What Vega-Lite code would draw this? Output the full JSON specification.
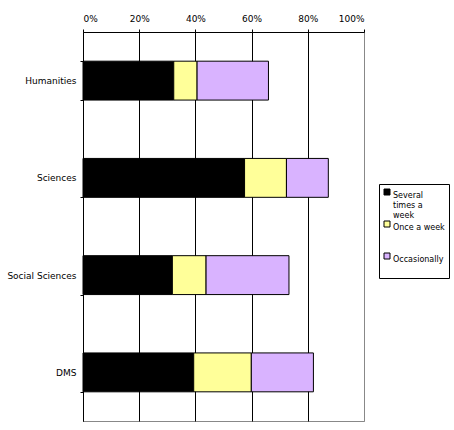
{
  "$schema": "https://vega.github.io/schema/vega-lite/v6.json",
  "width": 281,
  "height": 389,
  "autosize": "none",
  "padding": {"left": 83, "top": 32, "right": 90, "bottom": 9},
  "background": "white",
  "data": {
    "values": [
      {"group": "Humanities", "frequency": "Several times a week", "share": 0.323},
      {"group": "Humanities", "frequency": "Once a week", "share": 0.083},
      {"group": "Humanities", "frequency": "Occasionally", "share": 0.254},
      {"group": "Sciences", "frequency": "Several times a week", "share": 0.575},
      {"group": "Sciences", "frequency": "Once a week", "share": 0.149},
      {"group": "Sciences", "frequency": "Occasionally", "share": 0.149},
      {"group": "Social Sciences", "frequency": "Several times a week", "share": 0.318},
      {"group": "Social Sciences", "frequency": "Once a week", "share": 0.120},
      {"group": "Social Sciences", "frequency": "Occasionally", "share": 0.295},
      {"group": "DMS", "frequency": "Several times a week", "share": 0.394},
      {"group": "DMS", "frequency": "Once a week", "share": 0.205},
      {"group": "DMS", "frequency": "Occasionally", "share": 0.221}
    ]
  },
  "mark": {"type": "bar", "stroke": "black", "strokeWidth": 1},
  "encoding": {
    "y": {
      "field": "group",
      "type": "nominal",
      "sort": ["Humanities", "Sciences", "Social Sciences", "DMS"],
      "scale": {"paddingInner": 0.6, "paddingOuter": 0.3},
      "axis": {
        "title": null,
        "tickBand": "extent",
        "tickSize": 3,
        "tickColor": "black",
        "domainColor": "black",
        "labelPadding": 4,
        "labelFontSize": 9
      }
    },
    "x": {
      "field": "share",
      "type": "quantitative",
      "stack": "zero",
      "scale": {"domain": [0, 1]},
      "axis": {
        "orient": "top",
        "title": null,
        "format": ".0%",
        "values": [0, 0.2, 0.4, 0.6, 0.8, 1],
        "tickSize": 3,
        "tickColor": "black",
        "domainColor": "black",
        "labelPadding": 6,
        "labelFontSize": 9,
        "grid": true,
        "gridOpacity": 1,
        "gridColor": {"condition": {"test": "datum.value == 1", "value": "#888888"}, "value": "black"}
      }
    },
    "order": {"field": "frequency", "sort": "descending"},
    "color": {
      "field": "frequency",
      "type": "nominal",
      "scale": {
        "domain": ["Several times a week", "Once a week", "Occasionally"],
        "range": ["#000000", "#FFFF99", "#D9B3FF"]
      },
      "legend": {
        "orient": "none",
        "legendX": 296,
        "legendY": 152,
        "title": null,
        "gridAlign": "each",
        "rowPadding": -1,
        "padding": 4,
        "strokeColor": "black",
        "fillColor": "white",
        "symbolType": "square",
        "symbolSize": 36,
        "symbolStrokeColor": "black",
        "symbolStrokeWidth": 1,
        "symbolOffset": 0,
        "labelOffset": 2,
        "labelFontSize": 8,
        "labelBaseline": "top",
        "labelLimit": 0,
        "labelExpr": "datum.label == 'Several times a week' ? ['Several', 'times a', 'week'] : datum.label == 'Once a week' ? ['Once a week', ' ', ' '] : [datum.label, ' ']"
      }
    }
  },
  "config": {
    "font": "DejaVu Sans",
    "view": {"stroke": "#888888", "strokeWidth": 1},
    "axis": {"labelColor": "black", "labelFont": "DejaVu Sans"},
    "legend": {"labelColor": "black", "labelFont": "DejaVu Sans"}
  }
}
